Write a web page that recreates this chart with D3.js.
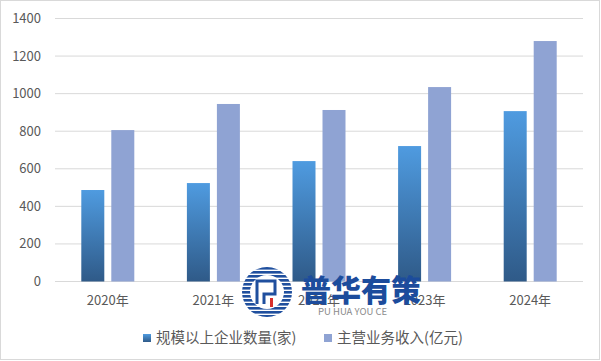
<!DOCTYPE html>
<html>
<head>
<meta charset="utf-8">
<script src="https://cdn.jsdelivr.net/npm/d3@7"></script>
<style>
  body { margin: 0; background: #fff; }
  svg { font-family: "Microsoft YaHei", "Noto Sans CJK SC", sans-serif; }
</style>
</head>
<body>
<svg width="601" height="361"></svg>
<script>
// 数据
const years = ["2020年", "2021年", "2022年", "2023年", "2024年"];
const companies = [487, 524, 641, 721, 907];      // 规模以上企业数量(家)
const revenue = [806, 945, 913, 1035, 1280];      // 主营业务收入(亿元)
const yTicks = [0, 200, 400, 600, 800, 1000, 1200, 1400];
const seriesNames = ["规模以上企业数量(家)", "主营业务收入(亿元)"];

const svg = d3.select("svg");
const margin = { top: 18.5, right: 18, bottom: 79.5, left: 55 };
const width = +svg.attr("width") - margin.left - margin.right;
const height = +svg.attr("height") - margin.top - margin.bottom;

// 外框
svg.append("rect")
  .attr("x", 0.5).attr("y", 0.5)
  .attr("width", 599).attr("height", 359)
  .attr("fill", "#fff").attr("stroke", "#d9d9d9");

const defs = svg.append("defs");
const grad = defs.append("linearGradient")
  .attr("id", "blueGrad")
  .attr("x1", 0).attr("y1", 0).attr("x2", 0).attr("y2", 1);
grad.append("stop").attr("offset", "0%").attr("stop-color", "#4f9be0");
grad.append("stop").attr("offset", "100%").attr("stop-color", "#2f5a88");

const g = svg.append("g")
  .attr("transform", "translate(" + margin.left + "," + margin.top + ")");

const x = d3.scaleBand().domain(years).range([0, width]);
const y = d3.scaleLinear().domain([0, 1400]).range([height, 0]);

// 网格线
g.selectAll(".grid")
  .data(yTicks)
  .join("line")
  .attr("class", "grid")
  .attr("x1", 0).attr("x2", width)
  .attr("y1", d => y(d)).attr("y2", d => y(d))
  .attr("stroke", "#d9d9d9").attr("stroke-width", 1);

// y 轴刻度
g.selectAll(".ylab")
  .data(yTicks)
  .join("text")
  .attr("class", "ylab")
  .attr("x", -14)
  .attr("y", d => y(d))
  .attr("dy", "0.35em")
  .attr("text-anchor", "end")
  .attr("fill", "#595959")
  .attr("font-size", 13)
  .text(d => d);

const barW = 23, gap = 7;

// 柱子
g.selectAll(".bar1")
  .data(companies)
  .join("rect")
  .attr("class", "bar1")
  .attr("x", (d, i) => x(years[i]) + x.bandwidth() / 2 - gap / 2 - barW)
  .attr("y", d => y(d))
  .attr("width", barW)
  .attr("height", d => height - y(d))
  .attr("fill", "url(#blueGrad)");

g.selectAll(".bar2")
  .data(revenue)
  .join("rect")
  .attr("class", "bar2")
  .attr("x", (d, i) => x(years[i]) + x.bandwidth() / 2 + gap / 2)
  .attr("y", d => y(d))
  .attr("width", barW)
  .attr("height", d => height - y(d))
  .attr("fill", "#8fa3d3");

// x 轴标签
g.selectAll(".xlab")
  .data(years)
  .join("text")
  .attr("class", "xlab")
  .attr("x", d => x(d) + x.bandwidth() / 2)
  .attr("y", height + 19)
  .attr("dy", "0.35em")
  .attr("text-anchor", "middle")
  .attr("fill", "#595959")
  .attr("font-size", 13)
  .text(d => d);

// 图例
const legendX = [143, 324];
const legend = svg.selectAll(".legend")
  .data(seriesNames)
  .join("g")
  .attr("class", "legend")
  .attr("transform", (d, i) => "translate(" + legendX[i] + ",334)");
legend.append("rect")
  .attr("x", 0).attr("y", 0)
  .attr("width", 8).attr("height", 8)
  .attr("fill", (d, i) => i === 0 ? "url(#blueGrad)" : "#8fa3d3");
legend.append("text")
  .attr("x", 13).attr("y", 4)
  .attr("dy", "0.35em")
  .attr("fill", "#595959")
  .attr("font-size", 14.5)
  .text(d => d);

// 水印
const wm = svg.append("g").attr("transform", "translate(267,292)");
wm.append("clipPath").attr("id", "logoClip")
  .append("circle").attr("r", 25);
const stripes = wm.append("g").attr("clip-path", "url(#logoClip)");
d3.range(-25, 25, 4).forEach(function(v) {
  stripes.append("rect")
    .attr("x", -26).attr("y", v)
    .attr("width", 52).attr("height", 2.6)
    .attr("fill", "#1f4f9e");
});
wm.append("circle").attr("r", 17).attr("fill", "#fff");
wm.append("path")
  .attr("d", "M-10,12 V-11 H8 V2 H-3 V12")
  .attr("fill", "none").attr("stroke", "#1f4f9e").attr("stroke-width", 3);
wm.append("rect").attr("x", 3).attr("y", 6).attr("width", 3).attr("height", 9).attr("fill", "#d9302c");
svg.append("text")
  .attr("x", 301).attr("y", 301)
  .attr("font-size", 30).attr("font-weight", "900")
  .attr("fill", "#1c4c9c")
  .attr("textLength", 120)
  .text("普华有策");
svg.append("text")
  .attr("x", 318).attr("y", 315)
  .attr("font-size", 9.5)
  .attr("fill", "#8c8c8c")
  .text("PU HUA YOU CE");
</script>
</body>
</html>
